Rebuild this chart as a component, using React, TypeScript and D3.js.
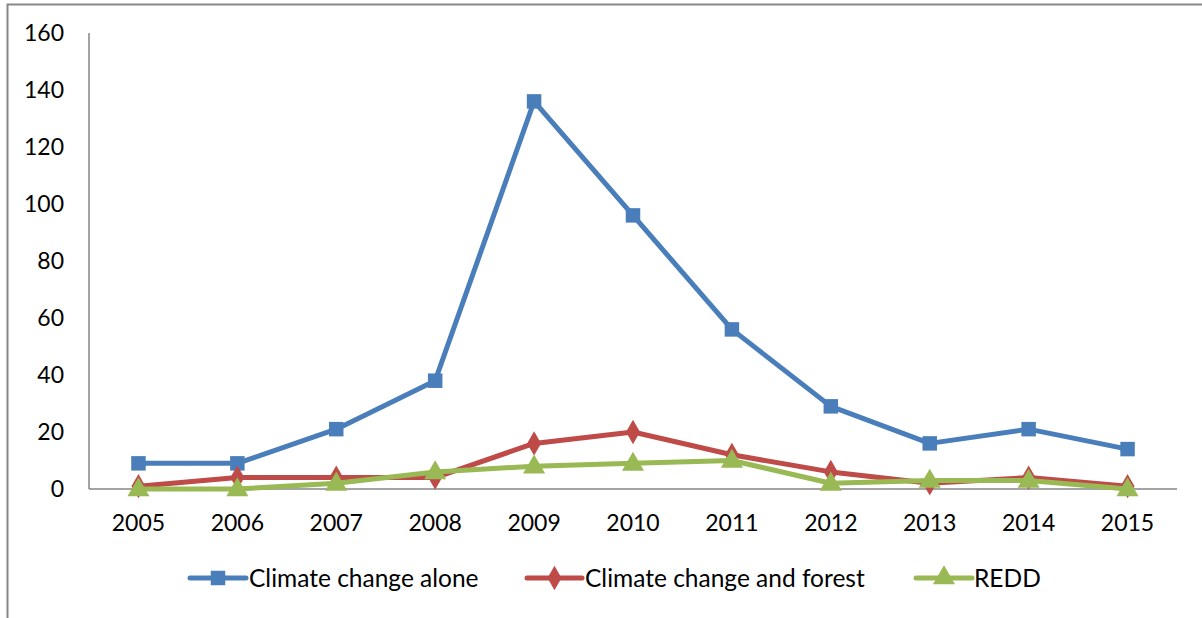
import React from 'react';
import * as d3 from 'd3';

const years = ['2005', '2006', '2007', '2008', '2009', '2010', '2011', '2012', '2013', '2014', '2015'];
const climateAlone = [9, 9, 21, 38, 136, 96, 56, 29, 16, 21, 14];
const climateForest = [1, 4, 4, 4, 16, 20, 12, 6, 2, 4, 1];
const redd = [0, 0, 2, 6, 8, 9, 10, 2, 3, 3, 0];
const yTicks = [0, 20, 40, 60, 80, 100, 120, 140, 160];

const seriesList = [
  { name: 'Climate change alone', values: climateAlone, color: '#4A7EBB', marker: 'square' },
  { name: 'Climate change and forest', values: climateForest, color: '#BE4B48', marker: 'diamond' },
  { name: 'REDD', values: redd, color: '#98B954', marker: 'triangle' }
];

const width = 1202;
const height = 618;
const margin = { top: 33, right: 25, bottom: 129, left: 89 };
const font = 'Lato, "Open Sans", sans-serif';

const x = d3.scaleBand().domain(years).range([margin.left, width - margin.right]);
const y = d3.scaleLinear().domain([0, 160]).range([height - margin.bottom, margin.top]);

const symbolFor = (m: string) => {
  if (m === 'square') return d3.symbol(d3.symbolSquare, 210)();
  if (m === 'diamond') return d3.symbol(d3.symbolDiamond, 170)();
  return d3.symbol(d3.symbolTriangle, 210)();
};

const legendPos = [
  { line: [190, 246], text: 249 },
  { line: [527, 582], text: 585 },
  { line: [916, 972], text: 974 }
];

const App = () => {
  const cx = (yr: string) => (x(yr) as number) + x.bandwidth() / 2;
  const line = d3.line<number>()
    .x((_, i) => cx(years[i]))
    .y(d => y(d));

  return (
    <svg width={width} height={height} style={{ position: 'absolute', left: 0, top: 0 }}>
      <rect x={0} y={0} width={width} height={height} fill="#fff" />
      <rect x={7.5} y={4.5} width={1300} height={700} fill="none" stroke="#888" strokeWidth={2} />
      <line x1={margin.left} x2={margin.left} y1={y(160)} y2={y(0)} stroke="#868686" strokeWidth={1.5} />
      <line x1={margin.left} x2={width - margin.right} y1={y(0)} y2={y(0)} stroke="#868686" strokeWidth={1.5} />
      {yTicks.map(t => (
        <text key={t} x={64} y={y(t)} dy="0.36em" textAnchor="end" fontFamily={font} fontSize={23} fill="#000">{t}</text>
      ))}
      {years.map(yr => (
        <text key={yr} x={cx(yr)} y={y(0) + 34} dy="0.36em" textAnchor="middle" fontFamily={font} fontSize={23} fill="#000">{yr}</text>
      ))}
      {seriesList.map(s => (
        <g key={s.name}>
          <path d={line(s.values) as string} fill="none" stroke={s.color} strokeWidth={5} strokeLinejoin="round" strokeLinecap="round" />
          {s.values.map((v, i) => (
            <path key={i} d={symbolFor(s.marker) as string} transform={`translate(${cx(years[i])},${y(v) + (s.marker === 'triangle' ? 1 : 0)})`} fill={s.color} />
          ))}
        </g>
      ))}
      {seriesList.map((s, i) => {
        const lp = legendPos[i];
        const ly = 578;
        return (
          <g key={s.name}>
            <line x1={lp.line[0]} x2={lp.line[1]} y1={ly} y2={ly} stroke={s.color} strokeWidth={5} strokeLinecap="round" />
            <path d={symbolFor(s.marker) as string} transform={`translate(${(lp.line[0] + lp.line[1]) / 2},${ly})`} fill={s.color} />
            <text x={lp.text} y={ly} dy="0.36em" fontFamily={font} fontSize={24.5} fill="#000">{s.name}</text>
          </g>
        );
      })}
    </svg>
  );
};

export default App;
